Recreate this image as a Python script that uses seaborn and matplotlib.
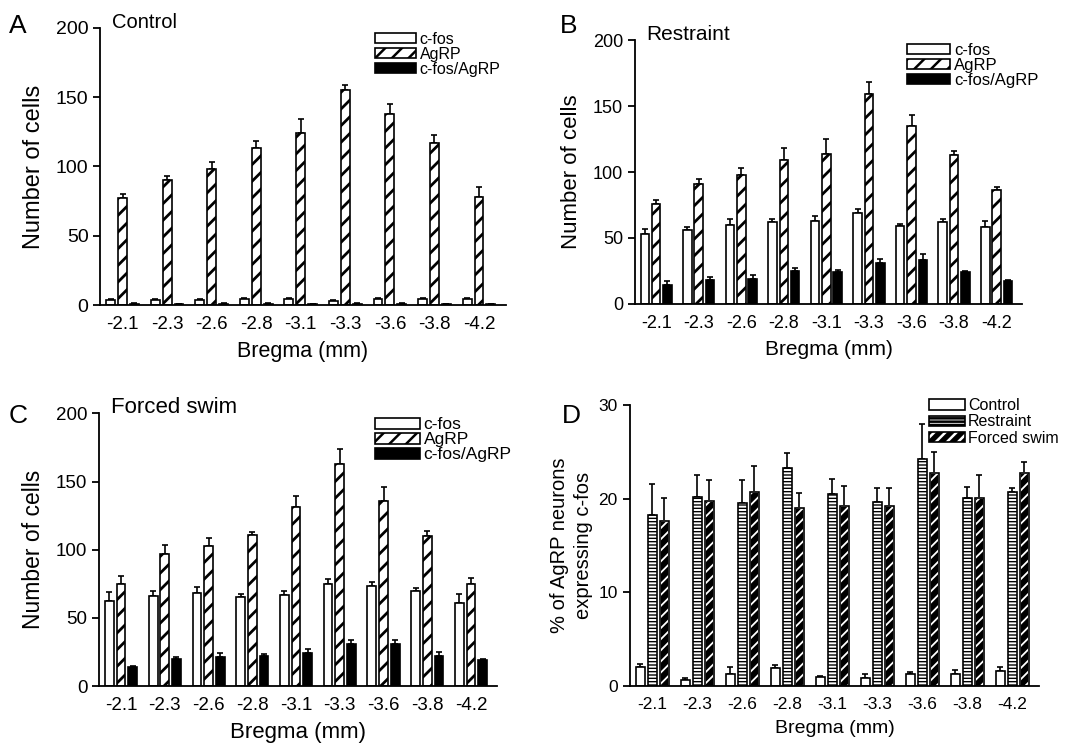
import numpy as np
import pandas as pd
import matplotlib
matplotlib.use('Agg')
import matplotlib.pyplot as plt
from matplotlib.patches import Patch, Rectangle
from matplotlib.legend_handler import HandlerTuple
import seaborn as sns

# Data
bregma = ['-2.1', '-2.3', '-2.6', '-2.8', '-3.1', '-3.3', '-3.6', '-3.8', '-4.2']

# A - Control
ctrl_cfos = [3.5, 3.5, 3.5, 4, 4, 3, 4, 4.5, 4]
ctrl_cfos_err = [0.5, 0.5, 0.8, 0.8, 0.8, 0.5, 0.8, 0.5, 0.7]
ctrl_agrp = [77, 90, 98, 113, 124, 155, 138, 117, 78]
ctrl_agrp_err = [3, 3, 5, 5, 10, 4, 7, 6, 7]
ctrl_dbl = [1, 0.5, 1, 1, 0.5, 1, 1, 0.5, 0.5]
ctrl_dbl_err = [0.3, 0.2, 0.3, 0.3, 0.2, 0.3, 0.3, 0.2, 0.2]

# B - Restraint
rest_cfos = [53, 56, 60, 62, 63, 69, 59, 62, 58]
rest_cfos_err = [4, 2, 4, 2.5, 3.5, 3, 1.5, 2.5, 5]
rest_agrp = [76, 91, 98, 109, 114, 159, 135, 113, 86]
rest_agrp_err = [3, 4, 5, 9, 11, 9.5, 8, 3, 2.5]
rest_dbl = [14, 18, 19, 25, 24, 31, 33, 24, 17]
rest_dbl_err = [3, 2.5, 3, 2, 1.5, 3, 4.5, 1, 1]

# C - Forced swim
swim_cfos = [62, 66, 68, 65, 67, 75, 73, 70, 61]
swim_cfos_err = [7, 4, 4.5, 2.7, 3, 3.4, 3.6, 2.2, 6.6]
swim_agrp = [75, 97, 103, 111, 131, 163, 136, 110, 75]
swim_agrp_err = [5.4, 6.6, 5.6, 2, 8, 11, 9.8, 3.7, 4.4]
swim_dbl = [14, 19.5, 21.5, 22, 24.5, 31, 31, 22, 19]
swim_dbl_err = [1, 1.5, 2.5, 1.2, 3, 3, 3, 3, 0.8]

# D - % of AgRP neurons expressing c-fos
pct_ctrl = [2.0, 0.6, 1.3, 1.9, 0.95, 0.9, 1.25, 1.25, 1.6]
pct_ctrl_err = [0.3, 0.3, 0.7, 0.35, 0.1, 0.4, 0.2, 0.45, 0.45]
pct_rest = [18.3, 20.2, 19.6, 23.3, 20.5, 19.7, 24.3, 20.1, 20.7]
pct_rest_err = [3.3, 2.3, 2.4, 1.6, 1.6, 1.5, 3.7, 1.2, 0.5]
pct_swim = [17.6, 19.8, 20.7, 19.0, 19.2, 19.2, 22.8, 20.1, 22.7]
pct_swim_err = [2.5, 2.2, 2.8, 1.6, 2.2, 2.0, 2.2, 2.4, 1.2]

cell_series = ['c-fos', 'AgRP', 'c-fos/AgRP']
pct_series = ['Control', 'Restraint', 'Forced swim']

sns.set_style('ticks')
plt.rcParams['font.family'] = ['Liberation Sans', 'DejaVu Sans']
plt.rcParams['hatch.linewidth'] = 1.8
# plain black text and axes, like the printed figure
for key in ['text.color', 'axes.labelcolor', 'xtick.color', 'ytick.color', 'axes.edgecolor']:
    plt.rcParams[key] = 'black'


def long_df(series, values):
    rows = []
    for name, vals in zip(series, values):
        for b, v in zip(bregma, vals):
            rows.append({'bregma': b, 'series': name, 'value': v})
    return pd.DataFrame(rows)


def style_bars(ax, styles, errs):
    # styles: (hatch, inverted, hatch linewidth) per hue level
    for cont, (hatch, inverted, hlw), err in zip(ax.containers, styles, errs):
        for p in cont.patches:
            if hatch:
                p.set_hatch(hatch)
                if hasattr(p, 'set_hatch_linewidth'):
                    p.set_hatch_linewidth(hlw)
            if inverted:
                # white hatch on black bar, then black outline on top
                p.set_edgecolor('white')
                ax.add_patch(Rectangle(p.get_xy(), p.get_width(), p.get_height(),
                                       fill=False, ec='black', lw=1.2, zorder=p.get_zorder() + 0.1))
        xs = [p.get_x() + p.get_width() / 2 for p in cont.patches]
        hs = [p.get_height() for p in cont.patches]
        ax.errorbar(xs, hs, yerr=[np.zeros(len(err)), err], fmt='none', ecolor='black',
                    elinewidth=1.2, capsize=2.2, capthick=1.2, zorder=1)


def make_panel(ax, series, values, errs, palette, styles, ymax, yticks,
               title, ylabel, fs):
    df = long_df(series, values)
    sns.barplot(data=df, x='bregma', y='value', hue='series', order=bregma,
                hue_order=series, palette=palette, width=0.8, gap=0.25,
                edgecolor='black', linewidth=1.2, errorbar=None, legend=False,
                ax=ax, zorder=2)
    style_bars(ax, styles, errs)
    ax.set_ylim(0, ymax)
    ax.set_xlim(-0.5, 8.6)
    ax.set_yticks(yticks)
    sns.despine(ax=ax)
    for s in ['left', 'bottom']:
        ax.spines[s].set_linewidth(1.3)
    ax.tick_params(axis='y', length=5, width=1.3, labelsize=fs['ytick'])
    ax.tick_params(axis='x', length=0, labelsize=fs['xtick'], pad=8)
    ax.set_xlabel('Bregma (mm)', fontsize=fs['xlabel'], labelpad=6)
    ax.set_ylabel(ylabel, fontsize=fs['ylabel'], labelpad=fs.get('ypad', 8),
                  linespacing=1.35)
    if title:
        ax.text(0.03, 1.02, title, transform=ax.transAxes, fontsize=fs['title'],
                va='center', ha='left')


fig = plt.figure(figsize=(10.67, 7.43), dpi=100)
axA = fig.add_axes([0.094, 0.5895, 0.380, 0.373])
axB = fig.add_axes([0.595, 0.591, 0.363, 0.355])
axC = fig.add_axes([0.093, 0.0767, 0.373, 0.367])
axD = fig.add_axes([0.590, 0.0767, 0.384, 0.378])

cell_pal = ['white', 'white', 'black']
cell_styles = [(None, False, 1), ('//', False, 2.0), (None, False, 1)]

fsA = dict(ytick=14, xtick=13.5, xlabel=15.5, ylabel=17, title=14.5)
fsB = dict(ytick=13, xtick=13, xlabel=15, ylabel=16, title=15)
fsC = dict(ytick=13.5, xtick=13.5, xlabel=16, ylabel=16.5, title=16)
fsD = dict(ytick=12.5, xtick=12.5, xlabel=14, ylabel=14.5, title=14, ypad=4)

make_panel(axA, cell_series, [ctrl_cfos, ctrl_agrp, ctrl_dbl],
           [ctrl_cfos_err, ctrl_agrp_err, ctrl_dbl_err], cell_pal, cell_styles,
           200, [0, 50, 100, 150, 200], 'Control', 'Number of cells', fsA)
make_panel(axB, cell_series, [rest_cfos, rest_agrp, rest_dbl],
           [rest_cfos_err, rest_agrp_err, rest_dbl_err], cell_pal, cell_styles,
           200, [0, 50, 100, 150, 200], 'Restraint', 'Number of cells', fsB)
make_panel(axC, cell_series, [swim_cfos, swim_agrp, swim_dbl],
           [swim_cfos_err, swim_agrp_err, swim_dbl_err], cell_pal, cell_styles,
           200, [0, 50, 100, 150, 200], 'Forced swim', 'Number of cells', fsC)
make_panel(axD, pct_series, [pct_ctrl, pct_rest, pct_swim],
           [pct_ctrl_err, pct_rest_err, pct_swim_err], ['white', 'white', 'black'],
           [(None, False, 1), ('-----', False, 1.0), ('///', True, 1.3)],
           30, [0, 10, 20, 30], None, '% of AgRP neurons\nexpressing c-fos', fsD)

# Legends
def cell_handles():
    return [Patch(fc='white', ec='black', lw=1.2),
            Patch(fc='white', ec='black', lw=1.2, hatch='//'),
            Patch(fc='black', ec='black', lw=1.2)]

for ax, fsz, loc in [(axA, 11.5, (0.677, 0.985)), (axB, 12, (0.703, 0.99)),
                     (axC, 12.5, (0.693, 0.985))]:
    ax.legend(cell_handles(), cell_series, loc='upper left', bbox_to_anchor=loc,
              frameon=False, fontsize=fsz, handlelength=2.6, handleheight=0.6,
              handletextpad=0.2, labelspacing=0.0, borderpad=0, borderaxespad=0)

d_handles = [Patch(fc='white', ec='black', lw=1.2),
             Patch(fc='white', ec='black', lw=1.2, hatch='-----'),
             (Patch(fc='black', ec='white', lw=0, hatch='///'),
              Patch(fill=False, ec='black', lw=1.2))]
axD.legend(d_handles, pct_series, loc='upper left', bbox_to_anchor=(0.732, 1.025),
           frameon=False, fontsize=11.5, handlelength=2.2, handleheight=0.6,
           handletextpad=0.2, labelspacing=0.08, borderpad=0, borderaxespad=0,
           handler_map={tuple: HandlerTuple(ndivide=1)})

# Panel letters
for letter, x, y in [('A', 0.008, 0.965), ('B', 0.525, 0.965),
                     ('C', 0.008, 0.44), ('D', 0.527, 0.44)]:
    fig.text(x, y, letter, fontsize=19, ha='left', va='center')

fig.savefig('out.png', dpi=100)
